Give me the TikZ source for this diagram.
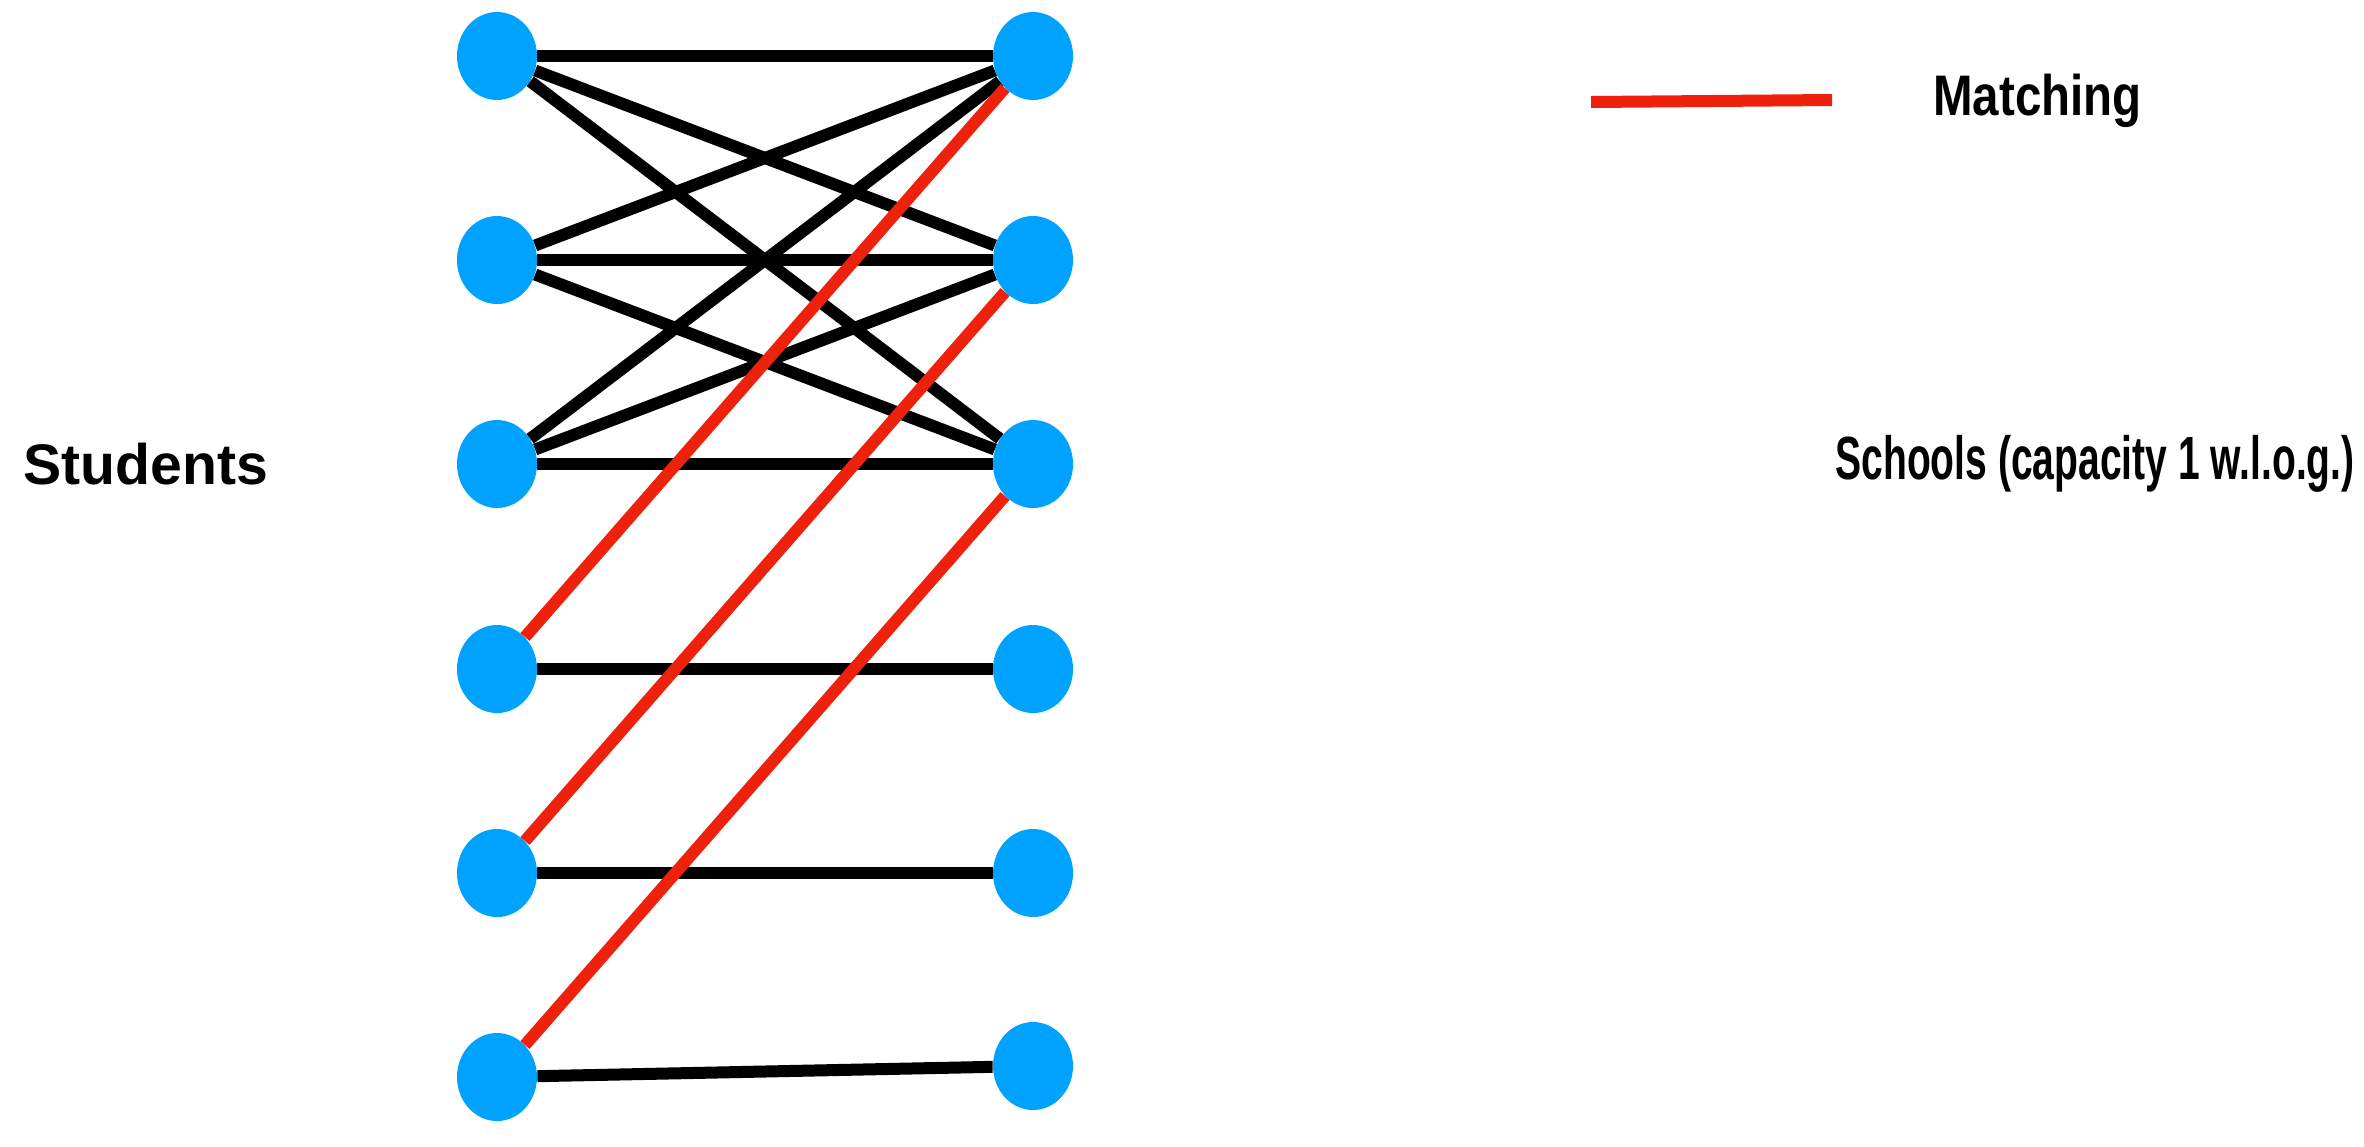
\documentclass[tikz,border=0pt]{standalone}
\usepackage{fontspec}
\setmainfont{Liberation Sans}
\usetikzlibrary{shapes.geometric}
\definecolor{nodeblue}{RGB}{0,162,255}
\definecolor{matchred}{RGB}{238,34,12}
\begin{document}
\begin{tikzpicture}[x=0.5pt,y=-0.5pt,
  vertex/.style={ellipse,fill=nodeblue,draw=none,inner sep=0pt,minimum width=40pt,minimum height=44pt},
  edge/.style={line width=6pt,black},
  matchedge/.style={line width=6pt,matchred},
  lbl/.style={inner sep=0pt,font=\fontsize{28.6}{34}\selectfont\bfseries}]
\useasboundingbox (0,0) rectangle (2364,1146);

% students (left column)
\foreach \i/\y in {1/56,2/260,3/464,4/669,5/873,6/1077}
  \node[vertex] (s\i) at (497,\y) {};
% schools (right column)
\foreach \i/\y in {1/56,2/260,3/464,4/669,5/873,6/1066}
  \node[vertex] (c\i) at (1033,\y) {};

% acceptable pairs
\foreach \a in {1,2,3}
  \foreach \b in {1,2,3}
    \draw[edge] (s\a) -- (c\b);
\foreach \a in {4,5,6}
  \draw[edge] (s\a) -- (c\a);

% matched pairs
\draw[matchedge] (s4) -- (c1);
\draw[matchedge] (s5) -- (c2);
\draw[matchedge] (s6) -- (c3);

% labels
\node[lbl,anchor=west] (stud) at (23,464) {Students};
\node[lbl,anchor=west] (schl) at (1835,464) {\fontsize{30.5}{36}\selectfont\scalebox{0.64}[1]{Schools (capacity 1 w.l.o.g.)}};

% legend
\coordinate (legA) at (1591,102);
\coordinate (legB) at (1832,100);
\draw[matchedge] (legA) -- (legB);
\node[lbl,anchor=west] (match) at (1933,101) {\scalebox{0.83}[1]{Matching}};
\end{tikzpicture}
\end{document}
